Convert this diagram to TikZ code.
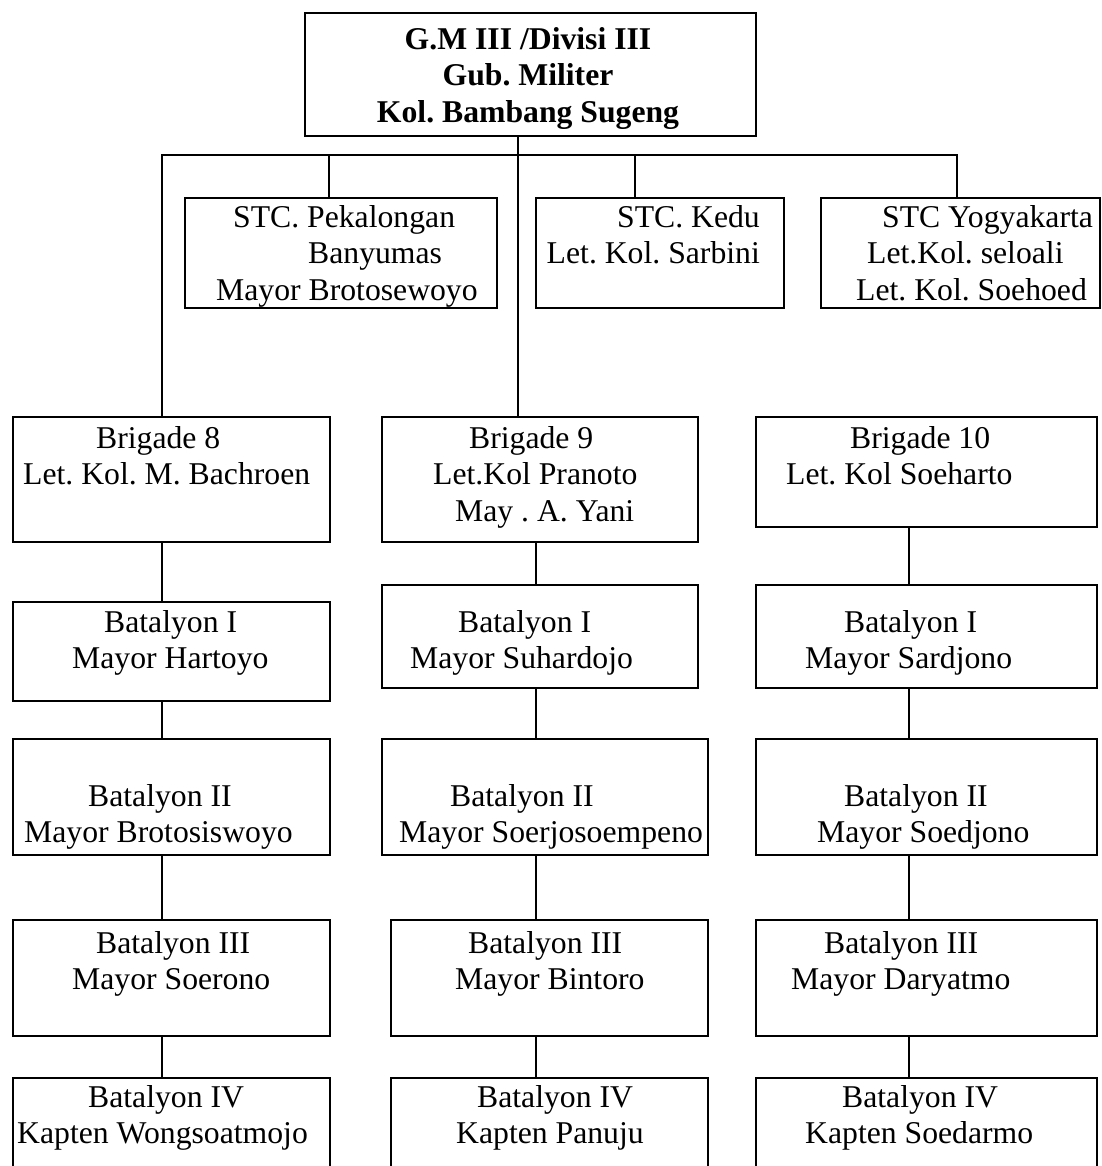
\documentclass[tikz,border=0pt]{standalone}
\usepackage{fontspec}
\setmainfont{Liberation Serif}
\newcommand{\orgfont}{\fontsize{31.7}{36.7}\selectfont\frenchspacing}

\begin{document}
\begin{tikzpicture}[
    x=1pt, y=-1pt,
    box/.style={draw, line width=1.7pt, inner sep=0pt, anchor=north west},
    txt/.style={font=\orgfont, align=left, inner sep=0pt, anchor=north west, execute at begin node=\strut},
    conn/.style={line width=1.5pt},
  ]
    \useasboundingbox (0,0) rectangle (1101,1166);
    \clip (0,0) rectangle (1101,1166);

    % --- Head ---
    \node[box, minimum width=451pt, minimum height=123pt] (gm) at (304,12) {};
    \node[txt, font=\orgfont\bfseries, align=center, anchor=north] (t-gm) at (528,27)
      {G.M III /Divisi III\\Gub. Militer\\Kol. Bambang Sugeng};

    % --- STC row ---
    \node[box, minimum width=312pt, minimum height=110pt] (pek)  at (184,197) {};
    \node[box, minimum width=248pt, minimum height=110pt] (kedu) at (535,197) {};
    \node[box, minimum width=279pt, minimum height=110pt] (yog)  at (820,197) {};
    \node[txt] (t-pek) at (216,205)
      {\hspace*{17pt}STC. Pekalongan\\\hspace*{92pt}Banyumas\\Mayor Brotosewoyo};
    \node[txt, align=right, anchor=north east] (t-kedu) at (760,205)
      {STC. Kedu\\Let. Kol. Sarbini};
    \node[txt] (t-yog) at (856,205)
      {\hspace*{26pt}STC Yogyakarta\\\hspace*{11pt}Let.Kol. seloali\\Let. Kol. Soehoed};

    % --- Brigades ---
    \node[box, minimum width=317pt, minimum height=125pt] (b8)  at (12,416)  {};
    \node[box, minimum width=316pt, minimum height=125pt] (b9)  at (381,416) {};
    \node[box, minimum width=341pt, minimum height=110pt] (b10) at (755,416) {};
    \node[txt] (t-b8)  at (23,426)  {\hspace*{73pt}Brigade 8\\Let. Kol. M. Bachroen};
    \node[txt] (t-b9)  at (433,426) {\hspace*{36pt}Brigade 9\\Let.Kol Pranoto\\\hspace*{22pt}May . A. Yani};
    \node[txt] (t-b10) at (786,426) {\hspace*{64pt}Brigade 10\\Let. Kol Soeharto};

    % --- Batalyon I ---
    \node[box, minimum width=317pt, minimum height=99pt]  (bi1) at (12,601)  {};
    \node[box, minimum width=316pt, minimum height=103pt] (bi2) at (381,584) {};
    \node[box, minimum width=341pt, minimum height=103pt] (bi3) at (755,584) {};
    \node[txt] (t-bi1) at (72,610)  {\hspace*{32pt}Batalyon I\\Mayor Hartoyo};
    \node[txt] (t-bi2) at (410,610) {\hspace*{48pt}Batalyon I\\Mayor Suhardojo};
    \node[txt] (t-bi3) at (805,610) {\hspace*{39pt}Batalyon I\\Mayor Sardjono};

    % --- Batalyon II ---
    \node[box, minimum width=317pt, minimum height=116pt] (bii1) at (12,738)  {};
    \node[box, minimum width=326pt, minimum height=116pt] (bii2) at (381,738) {};
    \node[box, minimum width=341pt, minimum height=116pt] (bii3) at (755,738) {};
    \node[txt] (t-bii1) at (24,784)  {\hspace*{64pt}Batalyon II\\Mayor Brotosiswoyo};
    \node[txt] (t-bii2) at (399,784) {\hspace*{51pt}Batalyon II\\Mayor Soerjosoempeno};
    \node[txt] (t-bii3) at (817,784) {\hspace*{27pt}Batalyon II\\Mayor Soedjono};

    % --- Batalyon III ---
    \node[box, minimum width=317pt, minimum height=116pt] (biii1) at (12,919)  {};
    \node[box, minimum width=317pt, minimum height=116pt] (biii2) at (390,919) {};
    \node[box, minimum width=341pt, minimum height=116pt] (biii3) at (755,919) {};
    \node[txt] (t-biii1) at (72,931)  {\hspace*{24pt}Batalyon III\\Mayor Soerono};
    \node[txt] (t-biii2) at (455,931) {\hspace*{13pt}Batalyon III\\Mayor Bintoro};
    \node[txt] (t-biii3) at (791,931) {\hspace*{33pt}Batalyon III\\Mayor Daryatmo};

    % --- Batalyon IV (cut off at the bottom) ---
    \node[box, minimum width=317pt, minimum height=100pt] (biv1) at (12,1077)  {};
    \node[box, minimum width=317pt, minimum height=100pt] (biv2) at (390,1077) {};
    \node[box, minimum width=341pt, minimum height=100pt] (biv3) at (755,1077) {};
    \node[txt] (t-biv1) at (17,1085)  {\hspace*{71pt}Batalyon IV\\Kapten Wongsoatmojo};
    \node[txt] (t-biv2) at (456,1085) {\hspace*{21pt}Batalyon IV\\Kapten Panuju};
    \node[txt] (t-biv3) at (805,1085) {\hspace*{37pt}Batalyon IV\\Kapten Soedarmo};

    % --- Connectors ---
    \coordinate (dcol1)  at (162,155);
    \coordinate (dpek)   at (329,155);
    \coordinate (dtrunk) at (518,155);
    \coordinate (dkedu)  at (635,155);
    \coordinate (dyog)   at (957,155);
    \coordinate (col2)   at (536,0);
    \coordinate (col3)   at (909,0);
    \draw[conn] (b8.north -| dcol1) -- (dcol1) -- (dyog) -- (yog.north -| dyog);
    \draw[conn] (dpek) -- (pek.north -| dpek);
    \draw[conn] (dkedu) -- (kedu.north -| dkedu);
    \draw[conn] (gm.south -| dtrunk) -- (b9.north -| dtrunk);
    \foreach \a/\b in {b8/bi1, bi1/bii1, bii1/biii1, biii1/biv1}
      \draw[conn] (\a.south -| dcol1) -- (\b.north -| dcol1);
    \foreach \a/\b in {b9/bi2, bi2/bii2, bii2/biii2, biii2/biv2}
      \draw[conn] (\a.south -| col2) -- (\b.north -| col2);
    \foreach \a/\b in {b10/bi3, bi3/bii3, bii3/biii3, biii3/biv3}
      \draw[conn] (\a.south -| col3) -- (\b.north -| col3);
\end{tikzpicture}
\end{document}
